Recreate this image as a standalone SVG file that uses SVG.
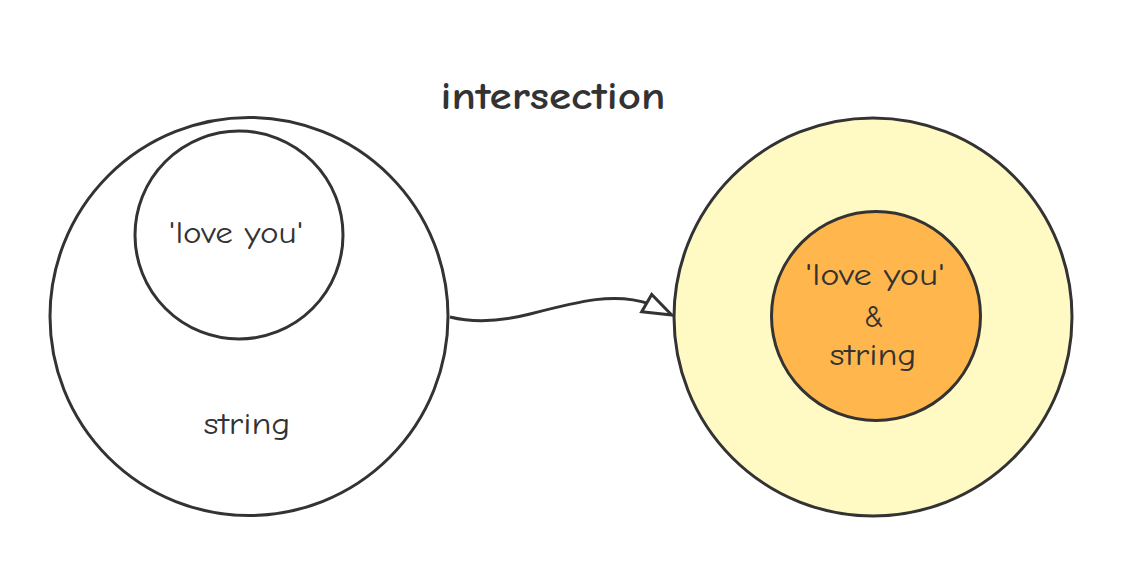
<svg xmlns="http://www.w3.org/2000/svg" width="1123" height="567" viewBox="0 0 1123 567">
<style>
.c{stroke:#333;stroke-width:3}
.t{font-family:"Comic Sans MS","Comic Neue","Noto Sans",sans-serif;fill:#333;text-anchor:middle;font-size:30px}
.title{font-size:38px;font-weight:bold}
</style>
<rect width="1123" height="567" fill="#fff"/>
<text class="t title" x="553" y="109" textLength="225" lengthAdjust="spacingAndGlyphs">intersection</text>
<g id="string-set">
<circle class="c" cx="249" cy="316.5" r="199" fill="#fff"/>
<text class="t" x="247" y="434" textLength="87" lengthAdjust="spacingAndGlyphs">string</text>
</g>
<g id="love-you">
<circle class="c" cx="239" cy="235" r="104" fill="#fff"/>
<text class="t" x="236" y="243" textLength="135" lengthAdjust="spacingAndGlyphs">'love you'</text>
</g>
<g id="result-outer">
<circle class="c" cx="873" cy="317" r="199" fill="#fff9c4"/>
</g>
<g id="result-inner">
<circle class="c" cx="876" cy="316" r="104.5" fill="#ffb74d"/>
<text class="t" x="875" y="285" textLength="140" lengthAdjust="spacingAndGlyphs">'love you'</text>
<text class="t" x="874" y="327">&amp;</text>
<text class="t" x="873" y="365" textLength="87" lengthAdjust="spacingAndGlyphs">string</text>
</g>
<g id="connectors">
<path d="M450,317 C470,322 495,323 530,314 C580,301 615,292 650,304" fill="none" stroke="#333" stroke-width="3"/>
<path d="M671.7,315 L641.7,311.7 L651.7,294.5 Z" fill="#fff" stroke="#333" stroke-width="3" stroke-linejoin="miter"/>
</g>
</svg>
